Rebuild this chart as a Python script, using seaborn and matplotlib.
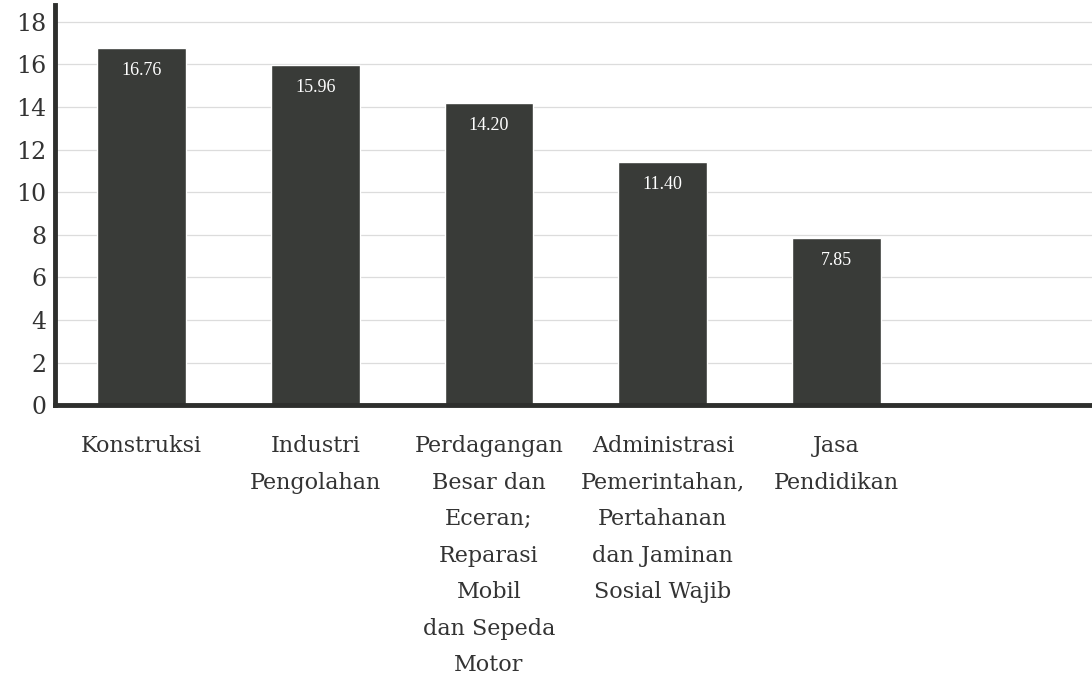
import matplotlib.pyplot as plt
import matplotlib.transforms as mtransforms
import seaborn as sns
import pandas as pd

categories = [
    "Konstruksi",
    "Industri\nPengolahan",
    "Perdagangan\nBesar dan\nEceran;\nReparasi\nMobil\ndan Sepeda\nMotor",
    "Administrasi\nPemerintahan,\nPertahanan\ndan Jaminan\nSosial Wajib",
    "Jasa\nPendidikan",
]
values = [16.76, 15.96, 14.20, 11.40, 7.85]
value_labels = ["16.76", "15.96", "14.20", "11.40", "7.85"]
yticks = [0, 2, 4, 6, 8, 10, 12, 14, 16, 18]

sns.set_style("white")
plt.rcParams["font.family"] = ["DejaVu Serif"]

df = pd.DataFrame({"Sektor": categories, "Nilai": values})

fig = plt.figure(figsize=(10.92, 6.88), dpi=100)
ax = fig.add_axes([0.05, 0.411, 0.95, 0.582])

sns.barplot(data=df, x="Sektor", y="Nilai", color="#393b38", width=0.51,
            saturation=1, ax=ax, zorder=2)

# value labels a little under the top of each bar
for i, (v, lab) in enumerate(zip(values, value_labels)):
    ax.text(i, v - 0.65, lab, ha="center", va="top", color="white",
            fontsize=13, family="Liberation Serif", zorder=3)

ax.set_xlim(-0.5, 5.47)
ax.set_ylim(0, 18.8)
ax.set_yticks(yticks)
ax.yaxis.grid(True, color="#dcdcdc", linewidth=0.9, zorder=0)
ax.set_axisbelow(True)

for s in ["top", "right"]:
    ax.spines[s].set_visible(False)
for s in ["left", "bottom"]:
    ax.spines[s].set_color("#2e2f2d")
    ax.spines[s].set_linewidth(3.5)

ax.tick_params(axis="both", length=0)
ax.tick_params(axis="y", labelsize=17, colors="#333333", pad=6)
ax.set_xticklabels([])
ax.set_xlabel("")
ax.set_ylabel("")

# category labels below the axis, with the wide line spacing of the original
trans = mtransforms.blended_transform_factory(ax.transData, ax.transAxes)
for i, cat in enumerate(categories):
    ax.text(i, -0.075, cat, transform=trans, ha="center", va="top",
            fontsize=16, color="#333333", linespacing=1.85, clip_on=False)

plt.savefig("out.png", dpi=100)
